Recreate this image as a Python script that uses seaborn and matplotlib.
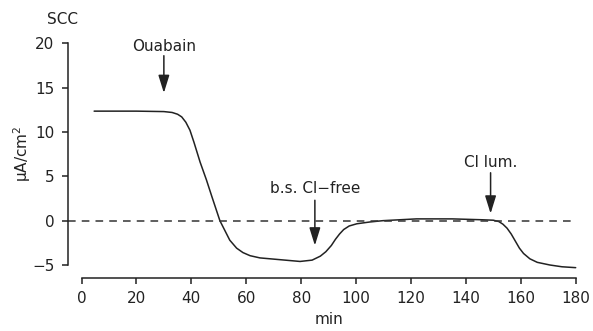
import matplotlib
matplotlib.use("Agg")
import matplotlib.pyplot as plt
import seaborn as sns
import pandas as pd

time_min = [4.6, 10, 20, 30, 33, 35, 36.5, 38, 39.5, 41, 43.2, 45.5, 47.5, 50.4, 54, 56.5,
            58.8, 61.4, 65, 72.3, 79.6, 84, 87, 89, 91, 92.5, 94, 95.5, 97.5, 100.3, 105, 109.8,
            122, 135, 146, 150, 152, 153.5, 155, 156.5, 158, 159.5, 161, 163.3, 166, 170.6, 175, 180]
scc = [12.35, 12.35, 12.35, 12.3, 12.2, 12.0, 11.7, 11.1, 10.2, 8.8, 6.6, 4.6, 2.7, 0.0, -2.2, -3.1,
       -3.6, -3.95, -4.2, -4.4, -4.6, -4.45, -4.0, -3.5, -2.8, -2.1, -1.5, -1.0, -0.6, -0.35, -0.15, 0.0,
       0.2, 0.2, 0.1, 0.05, -0.1, -0.4, -0.85, -1.5, -2.3, -3.1, -3.7, -4.3, -4.7, -5.0, -5.2, -5.3]
x_ticks = [0, 20, 40, 60, 80, 100, 120, 140, 160, 180]
y_ticks = [-5, 0, 5, 10, 15, 20]
events = ["Ouabain", "b.s. Cl\u2212free", "Cl lum."]
event_x = [30, 85, 149]
event_text_y = [19.6, 3.6, 6.6]
event_arrow_top = [18.6, 2.3, 5.4]
event_arrow_tip = [14.4, -2.8, 0.8]

sns.set_theme(style="ticks")
plt.rcParams['font.family'] = ['DejaVu Sans']

fig = plt.figure(figsize=(5.93, 3.31), dpi=100)
W, H = 593, 331
left, right, top, bottom = 81.5, 575.7, 43.3, 265.0
ax = fig.add_axes([left / W, 1 - bottom / H, (right - left) / W, (bottom - top) / H])

df = pd.DataFrame({"min": time_min, "scc": scc})
sns.lineplot(data=df, x="min", y="scc", ax=ax, color="#222222", linewidth=1.1, clip_on=False)

ax.set_xlim(0, 180)
ax.set_ylim(-5, 20)
ax.set_xticks(x_ticks)
ax.set_yticks(y_ticks)
ax.set_yticklabels(["\u22125", "0", "5", "10", "15", "20"])
ax.tick_params(axis="both", labelsize=11, length=4, width=1.1, color="#222222",
               labelcolor="#222222", pad=6)
for side in ["top", "right"]:
    ax.spines[side].set_visible(False)
ax.spines["left"].set_position(("outward", 9.5))
ax.spines["bottom"].set_position(("outward", 9))
for side in ["left", "bottom"]:
    ax.spines[side].set_linewidth(1.1)
    ax.spines[side].set_color("#222222")

ax.hlines(0, -4.8, 179, colors="#333333", linestyles=(0, (5, 4)), linewidth=1.1, clip_on=False)

ax.set_xlabel("min", fontsize=11, color="#222222", labelpad=4)
ax.set_ylabel("\u03bcA/cm$^2$", fontsize=11, color="#222222")
ax.yaxis.set_label_coords((33 - left) / (right - left), 0.5)
fig.text(62 / W, 1 - 20 / H, "SCC", fontsize=11, color="#222222", ha="center", va="center")

for name, ex, ty, atop, atip in zip(events, event_x, event_text_y, event_arrow_top, event_arrow_tip):
    ax.text(ex, ty, name, fontsize=11, ha="center", va="center", color="#222222")
    ax.annotate("", xy=(ex, atip), xytext=(ex, atop),
                arrowprops=dict(arrowstyle="-|>,head_width=0.28,head_length=0.9",
                                color="#222222", lw=1.1, shrinkA=0, shrinkB=0))

fig.savefig("out.png", dpi=100)
